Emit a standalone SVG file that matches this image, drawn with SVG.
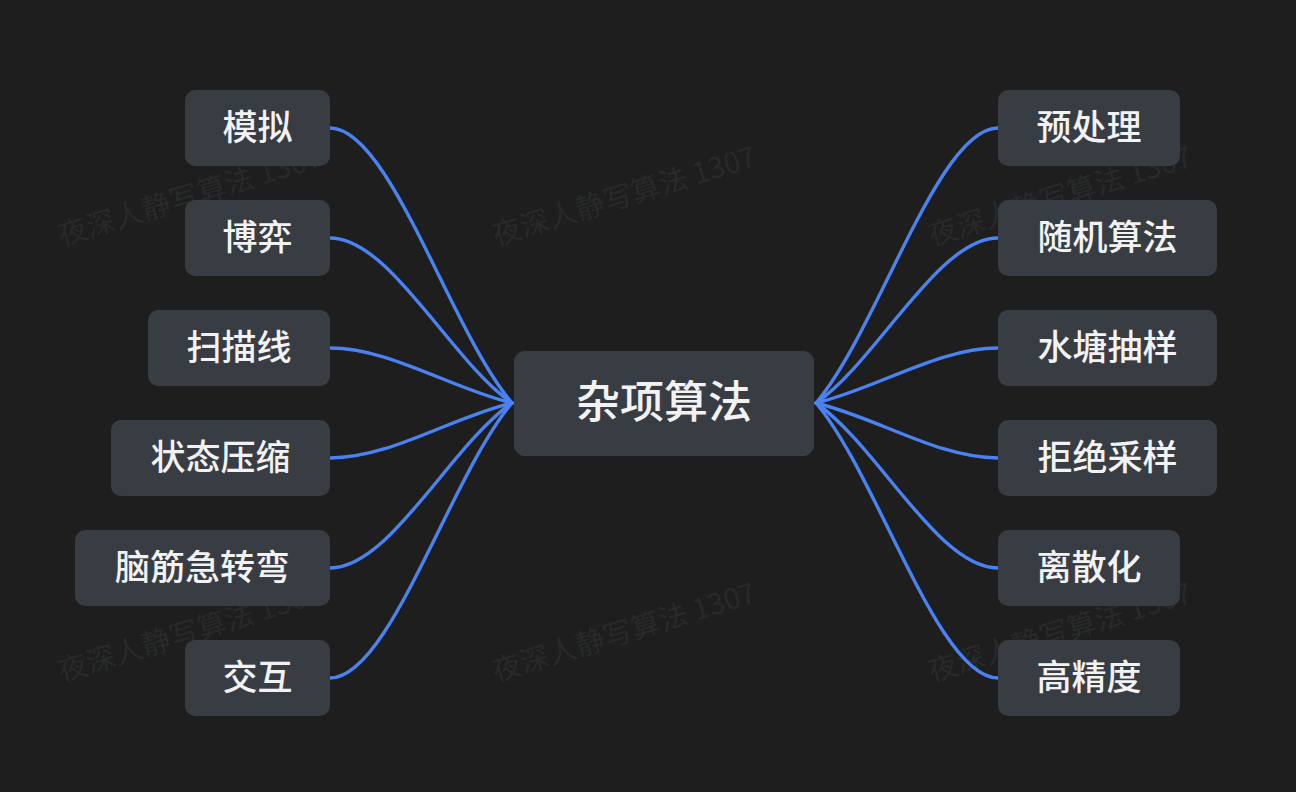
<svg xmlns="http://www.w3.org/2000/svg" width="1296" height="792" viewBox="0 0 1296 792">
<style>
.bg{fill:#1d1e1d}
.box{fill:#383c43}
.t{font-family:"Noto Sans CJK SC","Noto Sans",sans-serif;fill:#f2f2f2;text-anchor:middle;font-weight:500}
.n{font-size:35px}
.c{font-size:44px}
.wm{font-family:"Noto Sans CJK SC","Noto Sans",sans-serif;font-size:29px;fill:#282a2a}
.ln{fill:none;stroke:#4b82f2;stroke-width:3.4;stroke-linecap:round}
</style>
<rect class="bg" x="0" y="0" width="1296" height="792"/>
<g id="watermarks">
<text class="wm" x="62" y="246" transform="rotate(-17 62 246)">夜深人静写算法 1307</text>
<text class="wm" x="496" y="246" transform="rotate(-17 496 246)">夜深人静写算法 1307</text>
<text class="wm" x="932" y="246" transform="rotate(-17 932 246)">夜深人静写算法 1307</text>
<text class="wm" x="62" y="682" transform="rotate(-17 62 682)">夜深人静写算法 1307</text>
<text class="wm" x="496" y="682" transform="rotate(-17 496 682)">夜深人静写算法 1307</text>
<text class="wm" x="932" y="682" transform="rotate(-17 932 682)">夜深人静写算法 1307</text>
</g>
<g id="connectors">
<path class="ln" d="M330,128 C390,128 450,330 512,403"/>
<path class="ln" d="M330,238 C390,238 450,360 512,403"/>
<path class="ln" d="M330,348 C390,348 450,388 512,403"/>
<path class="ln" d="M330,458 C390,458 450,418 512,403"/>
<path class="ln" d="M330,568 C390,568 450,446 512,403"/>
<path class="ln" d="M330,678 C390,678 450,476 512,403"/>
<path class="ln" d="M998,128 C938,128 878,330 816,403"/>
<path class="ln" d="M998,238 C938,238 878,360 816,403"/>
<path class="ln" d="M998,348 C938,348 878,388 816,403"/>
<path class="ln" d="M998,458 C938,458 878,418 816,403"/>
<path class="ln" d="M998,568 C938,568 878,446 816,403"/>
<path class="ln" d="M998,678 C938,678 878,476 816,403"/>
</g>
<g id="center">
<rect class="box" x="514" y="351" width="300" height="105" rx="11"/>
<text class="t c" x="664" y="418">杂项算法</text>
</g>
<g id="n-moni"><rect class="box" x="185" y="90" width="145" height="76" rx="10"/><text class="t n" x="257.5" y="140">模拟</text></g>
<g id="n-boyi"><rect class="box" x="185" y="200" width="145" height="76" rx="10"/><text class="t n" x="257.5" y="250">博弈</text></g>
<g id="n-saomiaoxian"><rect class="box" x="148" y="310" width="182" height="76" rx="10"/><text class="t n" x="239" y="360">扫描线</text></g>
<g id="n-zhuangtaiyasuo"><rect class="box" x="111" y="420" width="219" height="76" rx="10"/><text class="t n" x="220.5" y="470">状态压缩</text></g>
<g id="n-naojin"><rect class="box" x="75" y="530" width="255" height="76" rx="10"/><text class="t n" x="202.5" y="580">脑筋急转弯</text></g>
<g id="n-jiaohu"><rect class="box" x="185" y="640" width="145" height="76" rx="10"/><text class="t n" x="257.5" y="690">交互</text></g>
<g id="n-yuchuli"><rect class="box" x="998" y="90" width="182" height="76" rx="10"/><text class="t n" x="1089" y="140">预处理</text></g>
<g id="n-suiji"><rect class="box" x="998" y="200" width="219" height="76" rx="10"/><text class="t n" x="1107.5" y="250">随机算法</text></g>
<g id="n-shuitang"><rect class="box" x="998" y="310" width="219" height="76" rx="10"/><text class="t n" x="1107.5" y="360">水塘抽样</text></g>
<g id="n-jujue"><rect class="box" x="998" y="420" width="219" height="76" rx="10"/><text class="t n" x="1107.5" y="470">拒绝采样</text></g>
<g id="n-lisanhua"><rect class="box" x="998" y="530" width="182" height="76" rx="10"/><text class="t n" x="1089" y="580">离散化</text></g>
<g id="n-gaojingdu"><rect class="box" x="998" y="640" width="182" height="76" rx="10"/><text class="t n" x="1089" y="690">高精度</text></g>
</svg>
